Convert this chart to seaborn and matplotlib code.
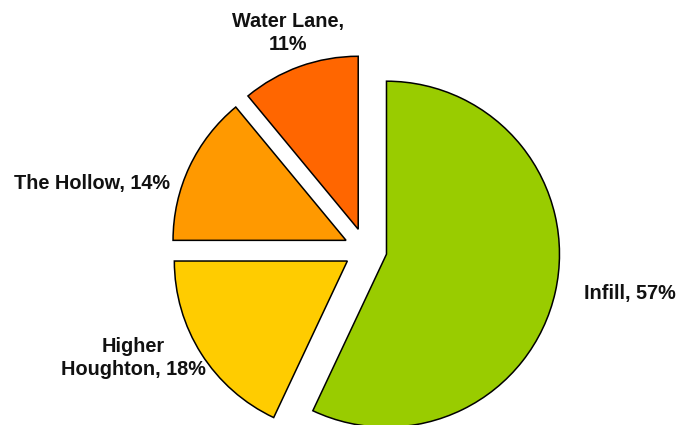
import matplotlib
matplotlib.use("Agg")
import matplotlib.pyplot as plt
import seaborn as sns

# data
names = ["Infill", "Higher Houghton", "The Hollow", "Water Lane"]
shares = [57, 18, 14, 11]
label_text = ["Infill, 57%", "Higher\nHoughton, 18%", "The Hollow, 14%", "Water Lane,\n11%"]
colors = ["#99CC00", "#FFCC00", "#FF9900", "#FF6600"]

sns.set_theme(style="white")
plt.rcParams['font.family'] = ['Liberation Sans', 'DejaVu Sans']

fig = plt.figure(figsize=(6.78, 4.25), dpi=100)
ax = fig.add_axes([0, 0, 1, 1])

# pie in pixel units (explode is an absolute offset here)
wedges, texts = ax.pie(shares, labels=label_text, colors=colors,
                       startangle=90, counterclock=False,
                       explode=[21.5] * 4, radius=173, center=(365.5, 175.5),
                       wedgeprops=dict(edgecolor="black", linewidth=1.1),
                       textprops=dict(fontsize=14.3, fontweight="bold", color="#111111"))

# label placement (pixel coords, y from bottom)
label_pos = [(630, 425 - 294), (133, 425 - 358), (92, 425 - 183), (288, 425 - 33)]
for t, (x, y) in zip(texts, label_pos):
    t.set_position((x, y))
    t.set_ha("center")
    t.set_va("center")
    t.set_linespacing(1.25)

ax.set_xlim(0, 678)
ax.set_ylim(0, 425)
ax.set_aspect("equal")
ax.axis("off")

fig.savefig("out.png", dpi=100)
